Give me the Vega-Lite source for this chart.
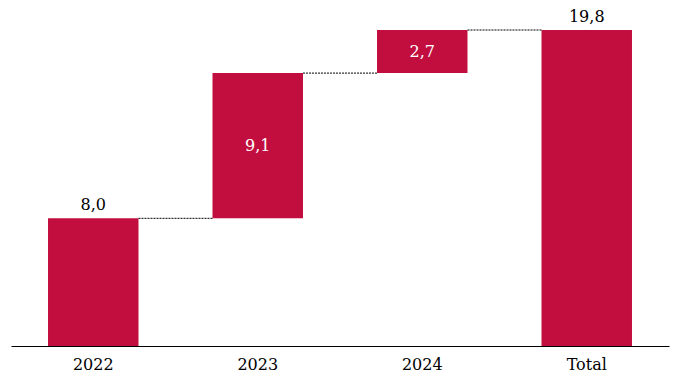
{
  "$schema": "https://vega.github.io/schema/vega-lite/v6.json",
  "width": 658,
  "height": 346,
  "autosize": {"type": "none"},
  "padding": {"left": 11, "right": 14, "top": 0, "bottom": 39},
  "background": "white",
  "config": {"view": {"stroke": null}, "font": "DejaVu Serif"},
  "data": {
    "values": [
      {"cat": "2022", "next": "2023", "start": 0, "end": 8.0, "label": "8,0", "kind": "base"},
      {"cat": "2023", "next": "2024", "start": 8.0, "end": 17.1, "label": "9,1", "kind": "delta"},
      {"cat": "2024", "next": "Total", "start": 17.1, "end": 19.8, "label": "2,7", "kind": "delta"},
      {"cat": "Total", "next": null, "start": 0, "end": 19.8, "label": "19,8", "kind": "total"}
    ]
  },
  "encoding": {
    "x": {
      "field": "cat", "type": "nominal", "sort": null, "title": null,
      "scale": {"paddingInner": 0.45, "paddingOuter": 0.225},
      "axis": {
        "labelAngle": 0, "ticks": false, "domainColor": "#000000", "domainWidth": 1,
        "labelFont": "DejaVu Serif", "labelFontSize": 16, "labelColor": "#000000",
        "labelBaseline": "alphabetic", "labelPadding": 23, "grid": false
      }
    }
  },
  "layer": [
    {
      "mark": {"type": "bar", "color": "#C20E3E"},
      "encoding": {
        "y": {"field": "start", "type": "quantitative", "scale": {"domain": [0, 21.68], "nice": false}, "axis": null},
        "y2": {"field": "end"}
      }
    },
    {
      "transform": [{"filter": "datum.next != null"}],
      "mark": {"type": "rule", "color": "#000000", "strokeWidth": 1, "strokeDash": [2, 1]},
      "encoding": {
        "x": {"field": "cat", "type": "nominal", "sort": null, "bandPosition": 1},
        "x2": {"field": "next", "bandPosition": 0},
        "y": {"field": "end", "type": "quantitative"}
      }
    },
    {
      "transform": [{"filter": "datum.kind != 'delta'"}],
      "mark": {"type": "text", "color": "#000000", "fontSize": 16, "baseline": "alphabetic", "dy": -8, "font": "DejaVu Serif"},
      "encoding": {
        "y": {"field": "end", "type": "quantitative"},
        "text": {"field": "label"}
      }
    },
    {
      "transform": [
        {"filter": "datum.kind == 'delta'"},
        {"fold": ["start", "end"], "as": ["edge", "value"]}
      ],
      "mark": {"type": "text", "color": "#FFFFFF", "fontSize": 16, "baseline": "middle", "font": "DejaVu Serif"},
      "encoding": {
        "y": {"field": "value", "type": "quantitative", "aggregate": "mean"},
        "text": {"field": "label", "type": "nominal"}
      }
    }
  ]
}
